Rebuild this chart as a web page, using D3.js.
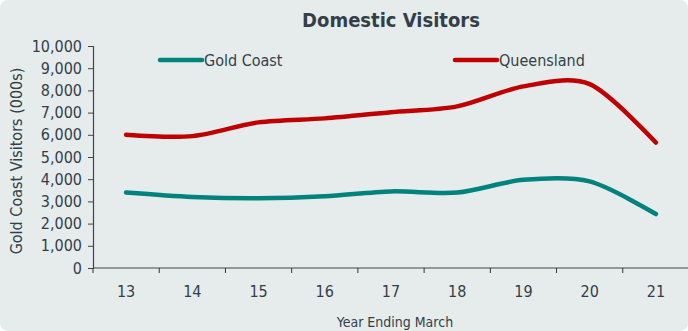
<!DOCTYPE html>
<html>
<head>
<meta charset="utf-8">
<script src="https://cdn.jsdelivr.net/npm/d3@7"></script>
<style>
	body { margin: 0; background: #ffffff; }
	svg text { font-family: "DejaVu Sans Condensed", "DejaVu Sans", sans-serif; font-stretch: condensed; fill: #333f48; }
</style>
</head>
<body>
<svg id="chart" width="688" height="331"></svg>
<script>
// year ending march (two digit)
const years = ["13", "14", "15", "16", "17", "18", "19", "20", "21"];
const goldCoast = [3400, 3200, 3140, 3230, 3450, 3400, 3970, 3900, 2430];
const queensland = [6000, 5940, 6560, 6740, 7020, 7280, 8180, 8280, 5650];
const yTicks = [0, 1000, 2000, 3000, 4000, 5000, 6000, 7000, 8000, 9000, 10000];

const seriesList = [
	{ name: "Gold Coast", values: goldCoast, color: "#00827d", legendX: 160 },
	{ name: "Queensland", values: queensland, color: "#c00000", legendX: 455 }
];

let svg = d3.select("#chart");
let width = +svg.attr("width");
let height = +svg.attr("height");

svg.append("rect")
	.attr("width", width)
	.attr("height", height)
	.attr("rx", 8)
	.attr("fill", "#e6ecec");

let x = d3.scaleBand().domain(years).range([93, 689]);
let y = d3.scaleLinear().domain([0, 10000]).range([268, 46]);

/* ------------------------ axes ------------------------ */

let yAxis = svg.append("g")
	.attr("transform", "translate(93,0)")
	.call(d3.axisLeft(y).tickValues(yTicks).tickSize(5).tickPadding(6)
		.tickFormat(d3.format(",")));

let xAxis = svg.append("g")
	.attr("transform", "translate(0,268)")
	.call(d3.axisBottom(x).tickSize(0).tickPadding(18));

// tick marks sit between the categories
xAxis.selectAll(".edge")
	.data(years)
	.enter().append("line")
	.attr("class", "edge")
	.attr("x1", d => x(d)).attr("x2", d => x(d))
	.attr("y1", 0).attr("y2", 5)
	.attr("stroke", "#333");

[yAxis, xAxis].forEach(ax => {
	ax.select(".domain").attr("stroke", "#444").attr("stroke-width", 1.2);
	ax.selectAll(".tick line").attr("stroke", "#444");
	ax.selectAll("text").attr("font-size", 16).style("font-family", null);
});
xAxis.select(".domain").attr("d", "M93,0H689");

/* ------------------------ lines ------------------------ */

let line = d3.line()
	.x((d, i) => x(years[i]) + x.bandwidth() / 2)
	.y(d => y(d))
	.curve(d3.curveCardinal.tension(0.1));

seriesList.forEach(s => {
	svg.append("path")
		.datum(s.values)
		.attr("d", line)
		.attr("fill", "none")
		.attr("stroke", s.color)
		.attr("stroke-width", 4.5)
		.attr("stroke-linecap", "round")
		.attr("stroke-linejoin", "round");

	svg.append("line")
		.attr("x1", s.legendX).attr("x2", s.legendX + 42)
		.attr("y1", 60).attr("y2", 60)
		.attr("stroke", s.color)
		.attr("stroke-width", 4.5)
		.attr("stroke-linecap", "round");

	svg.append("text")
		.attr("x", s.legendX + 44)
		.attr("y", 66)
		.attr("font-size", 16)
		.text(s.name);
});

/* ------------------------ titles ----------------------- */

svg.append("text")
	.attr("x", 391).attr("y", 27)
	.attr("text-anchor", "middle")
	.attr("font-size", 20)
	.attr("font-weight", "bold")
	.text("Domestic Visitors");

svg.append("text")
	.attr("x", 395).attr("y", 327)
	.attr("text-anchor", "middle")
	.attr("font-size", 14)
	.text("Year Ending March");

svg.append("text")
	.attr("transform", "translate(22,161) rotate(-90)")
	.attr("text-anchor", "middle")
	.attr("font-size", 16)
	.text("Gold Coast Visitors (000s)");
</script>
</body>
</html>
